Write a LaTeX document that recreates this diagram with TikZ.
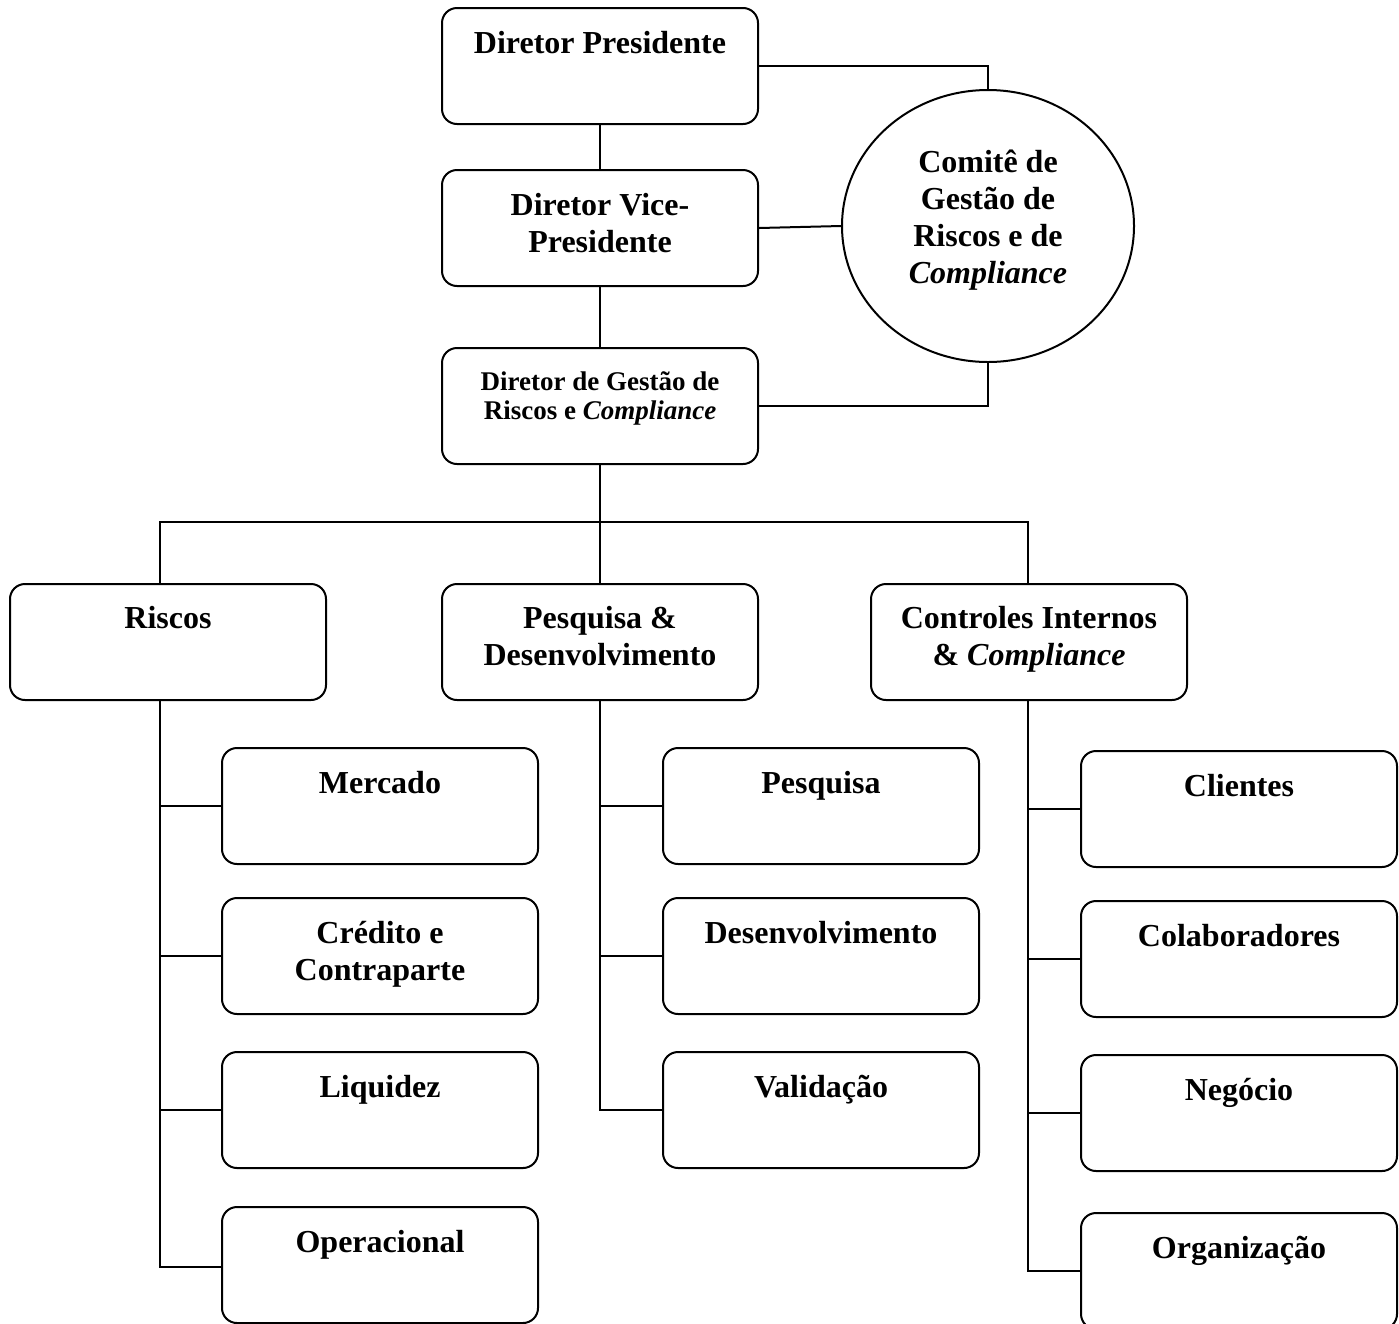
\documentclass[tikz,border=0pt]{standalone}
\usepackage{fontspec}
\setmainfont{Liberation Serif}
\usetikzlibrary{calc,shapes.geometric}
\tikzset{
  box/.style={draw, line width=2, rounded corners=15, minimum width=316, minimum height=116, inner sep=0, anchor=north west},
  lbl/.style={anchor=base, align=center, inner sep=0, font=\fontsize{32}{37}\selectfont\bfseries},
  lblsmall/.style={anchor=base, align=center, inner sep=0, font=\fontsize{27}{29}\selectfont\bfseries},
  conn/.style={line width=2},
}
\begin{document}
\begin{tikzpicture}[x=1pt,y=-1pt]
\useasboundingbox (0,0) rectangle (1399,1323);
% boxes
\node[box] (pres) at (441,7) {};
\node[box] (vice) at (441,169) {};
\node[box] (gest) at (441,347) {};
\node[box] (riscos) at (9,583) {};
\node[box] (pd) at (441,583) {};
\node[box] (ctrl) at (870,583) {};
\node[box] (mercado) at (221,747) {};
\node[box] (credito) at (221,897) {};
\node[box] (liquidez) at (221,1051) {};
\node[box] (operacional) at (221,1206) {};
\node[box] (pesquisa) at (662,747) {};
\node[box] (desenv) at (662,897) {};
\node[box] (valid) at (662,1051) {};
\node[box] (clientes) at (1080,750) {};
\node[box] (colab) at (1080,900) {};
\node[box] (negocio) at (1080,1054) {};
\node[box] (organiz) at (1080,1212) {};
\node[draw, line width=2, ellipse, minimum width=292, minimum height=272, inner sep=0] (comite) at (988,226) {};
% labels (anchor=base is the baseline of the last line)
\node[lbl] (tpres) at ($(pres.north)+(0,46)$) {Diretor Presidente};
\node[lbl] (tvice) at ($(vice.north)+(0,83)$) {Diretor Vice-\\Presidente};
\node[lblsmall] (tgest) at ($(gest.north)+(0,72)$) {Diretor de Gestão de\\Riscos e \textit{Compliance}};
\node[lbl] (tcomite) at (988,283) {Comitê de\\Gestão de\\Riscos e de\\\textit{Compliance}};
\node[lbl] (triscos) at ($(riscos.north)+(0,45)$) {Riscos};
\node[lbl] (tpd) at ($(pd.north)+(0,82)$) {Pesquisa \&\\Desenvolvimento};
\node[lbl] (tctrl) at ($(ctrl.north)+(0,82)$) {Controles Internos\\\& \textit{Compliance}};
\node[lbl] (tmercado) at ($(mercado.north)+(0,46)$) {Mercado};
\node[lbl] (tcredito) at ($(credito.north)+(0,83)$) {Crédito e\\Contraparte};
\node[lbl] (tliquidez) at ($(liquidez.north)+(0,46)$) {Liquidez};
\node[lbl] (toperacional) at ($(operacional.north)+(0,46)$) {Operacional};
\node[lbl] (tpesquisa) at ($(pesquisa.north)+(0,46)$) {Pesquisa};
\node[lbl] (tdesenv) at ($(desenv.north)+(0,46)$) {Desenvolvimento};
\node[lbl] (tvalid) at ($(valid.north)+(0,46)$) {Validação};
\node[lbl] (tclientes) at ($(clientes.north)+(0,46)$) {Clientes};
\node[lbl] (tcolab) at ($(colab.north)+(0,46)$) {Colaboradores};
\node[lbl] (tnegocio) at ($(negocio.north)+(0,46)$) {Negócio};
\node[lbl] (torganiz) at ($(organiz.north)+(0,46)$) {Organização};
% connectors
\coordinate (bus) at (599,522);
\draw[conn] (pres.south) -- (vice.north);
\draw[conn] (vice.south) -- (gest.north);
\draw[conn] (pres.east) -| (comite.north);
\draw[conn] (vice.east) -- (comite.west);
\draw[conn] (gest.east) -| (comite.south);
\draw[conn] (gest.south) -- (pd.north);
\draw[conn] ([xshift=-8]riscos.north) |- (bus) -| ([xshift=-1]ctrl.north);
% riscos subtree
\draw[conn] ([xshift=-8]riscos.south) |- (mercado.west);
\draw[conn] ([xshift=-8]riscos.south) |- (credito.west);
\draw[conn] ([xshift=-8]riscos.south) |- (liquidez.west);
\draw[conn] ([xshift=-8]riscos.south) |- ([yshift=-2]operacional.west);
% pd subtree
\draw[conn] (pd.south) |- (pesquisa.west);
\draw[conn] (pd.south) |- (desenv.west);
\draw[conn] (pd.south) |- (valid.west);
% ctrl subtree
\draw[conn] ([xshift=-1]ctrl.south) |- (clientes.west);
\draw[conn] ([xshift=-1]ctrl.south) |- (colab.west);
\draw[conn] ([xshift=-1]ctrl.south) |- (negocio.west);
\draw[conn] ([xshift=-1]ctrl.south) |- (organiz.west);
\end{tikzpicture}
\end{document}
